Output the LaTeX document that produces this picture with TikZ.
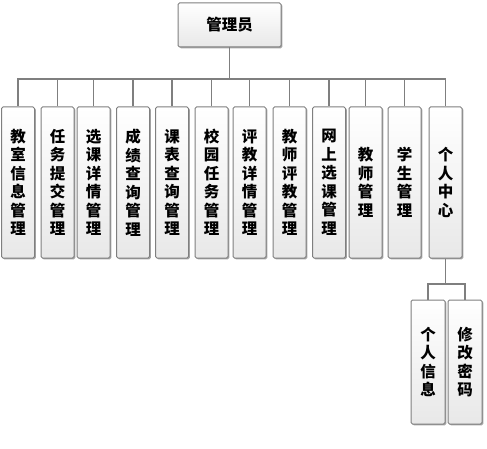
\documentclass[tikz,border=0pt]{standalone}
\usepackage{fontspec}
\newfontfamily\cjk{Noto Sans CJK SC}
\usetikzlibrary{shadows}
\definecolor{boxgray}{HTML}{7F7F7F}
\definecolor{linegray}{HTML}{7F7F7F}
\begin{document}
\begin{tikzpicture}[x=1pt,y=1pt,
  box/.style={draw=boxgray, line width=1pt, rounded corners=1.5pt,
    top color=white, bottom color=black!9,
    drop shadow={shadow xshift=1.3pt, shadow yshift=-1.3pt, opacity=0.35, fill=black},
    font=\cjk\bfseries\fontsize{15.5}{18.5}\selectfont, align=center, inner sep=0pt},
  vbox/.style={box, minimum width=33pt, minimum height=151pt},
  sbox/.style={box, minimum width=34pt, minimum height=124pt},
  link/.style={draw=linegray, line width=1.5pt}]
\useasboundingbox (0,0) rectangle (487,-449);
\node[box, minimum width=103pt, minimum height=44pt] (top) at (229.5,-25) {管理员};
\node[vbox] (b1) at (18,-182.5) {教\\室\\信\\息\\管\\理};
\node[vbox] (b2) at (57.5,-182.5) {任\\务\\提\\交\\管\\理};
\node[vbox] (b3) at (93.5,-182.5) {选\\课\\详\\情\\管\\理};
\node[vbox] (b4) at (133,-182.5) {成\\绩\\查\\询\\管\\理};
\node[vbox] (b5) at (172,-182.5) {课\\表\\查\\询\\管\\理};
\node[vbox] (b6) at (211.5,-182.5) {校\\园\\任\\务\\管\\理};
\node[vbox] (b7) at (249.5,-182.5) {评\\教\\详\\情\\管\\理};
\node[vbox] (b8) at (289.5,-182.5) {教\\师\\评\\教\\管\\理};
\node[vbox] (b9) at (329,-182.5) {网\\上\\选\\课\\管\\理};
\node[vbox] (b10) at (365.5,-182.5) {教\\师\\管\\理};
\node[vbox] (b11) at (404.5,-182.5) {学\\生\\管\\理};
\node[vbox] (b12) at (445.5,-182.5) {个\\人\\中\\心};
\node[sbox] (c1) at (428,-362) {个\\人\\信\\息};
\node[sbox] (c2) at (465,-362) {修\\改\\密\\码};
\coordinate (bus) at (0,-79);
\coordinate (sub) at (0,-284);
\foreach \b in {b1,b2,b3,b4,b5,b6,b7,b8,b9,b10,b11,b12}
  \draw[link] (top.south) -- (top.south |- bus) -| (\b.north);
\foreach \c in {c1,c2}
  \draw[link] (b12.south) -- (b12.south |- sub) -| (\c.north);
\end{tikzpicture}
\end{document}
